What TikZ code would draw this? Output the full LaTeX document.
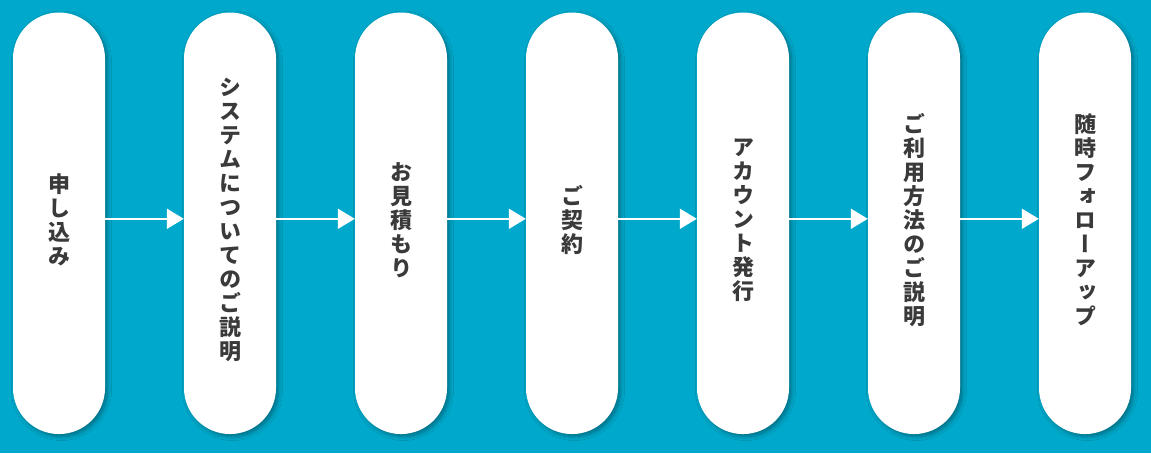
\documentclass[tikz,border=0pt]{standalone}
\usepackage{fontspec}
\newfontfamily\cjk[RawFeature=+vert]{Noto Sans CJK JP}
\usetikzlibrary{arrows.meta,shadows.blur}
\definecolor{bgteal}{HTML}{00A9CB}
\definecolor{txtgray}{HTML}{3A3A3A}
\tikzset{
  pill/.style={fill=white,minimum width=92pt,minimum height=421.5pt,rounded corners=46pt,inner sep=0pt,
    blur shadow={shadow xshift=2.5pt,shadow yshift=-2.5pt,shadow blur steps=6,shadow blur radius=4pt,shadow opacity=35}},
  tate/.style={align=center,inner sep=0pt,text=txtgray,font=\cjk\bfseries\fontsize{22}{24}\selectfont},
  flow/.style={draw=white,line width=1.8pt,-{Triangle[length=17pt,width=20pt]}}
}
\begin{document}
\begin{tikzpicture}[x=1pt,y=1pt]
        \fill[bgteal](0,0)rectangle(1151,453);
        \node[pill](p1)at(59,229.7){};
        \node[pill](p2)at(230,229.7){};
        \node[pill](p3)at(401,229.7){};
        \node[pill](p4)at(572,229.7){};
        \node[pill](p5)at(743,229.7){};
        \node[pill](p6)at(914,229.7){};
        \node[pill](p7)at(1085,229.7){};
        \node[tate](t1)at([yshift=3.5pt]p1.center){申\\し\\込\\み};
        \node[tate](t2)at([yshift=3.5pt]p2.center){シ\\ス\\テ\\ム\\に\\つ\\い\\て\\の\\ご\\説\\明};
        \node[tate](t3)at([yshift=3.5pt]p3.center){お\\見\\積\\も\\り};
        \node[tate](t4)at([yshift=3.5pt]p4.center){ご\\契\\約};
        \node[tate](t5)at([yshift=3.5pt]p5.center){ア\\カ\\ウ\\ン\\ト\\発\\行};
        \node[tate](t6)at([yshift=3.5pt]p6.center){ご\\利\\用\\方\\法\\の\\ご\\説\\明};
        \node[tate](t7)at([yshift=3.5pt]p7.center){随\\時\\フ\\ォ\\ロ\\ー\\ア\\ッ\\プ};
        \foreach \a/\b in {p1/p2,p2/p3,p3/p4,p4/p5,p5/p6,p6/p7}
          \draw[flow]([yshift=4.5pt]\a.east)--([yshift=4.5pt]\b.west);
\end{tikzpicture}
\end{document}
